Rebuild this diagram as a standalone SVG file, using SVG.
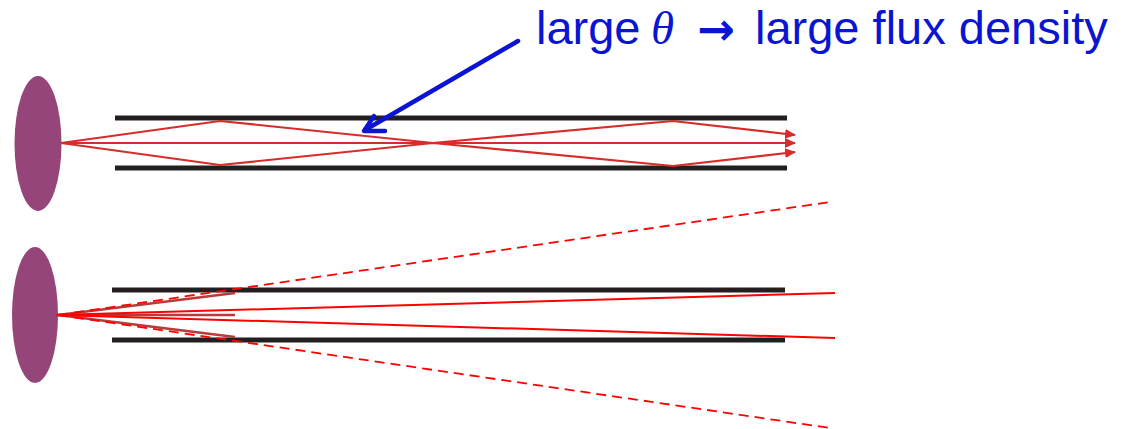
<svg xmlns="http://www.w3.org/2000/svg" width="1125" height="429" viewBox="0 0 1125 429">
  <style>
    .lens { fill: #95457a; }
    .wall { stroke: #231f20; stroke-width: 5; fill: none; }
    .ray { stroke: #d62d2a; stroke-width: 2.2; fill: none; }
    .stub { stroke: #b83a3a; stroke-width: 2.5; fill: none; }
    .red { stroke: #ff0000; stroke-width: 2; fill: none; }
    .dash { stroke: #ff0000; stroke-width: 1.8; fill: none; stroke-dasharray: 10 6; }
    .lbl { font-family: "Liberation Sans", Arial, sans-serif; font-size: 47px; fill: #0a14d2; }
    .sym { font-family: "DejaVu Sans", sans-serif; font-weight: bold; font-size: 45px; fill: #0a14d2; }
    .theta { font-family: "Liberation Serif", "Times New Roman", serif; font-style: italic; font-size: 47px; fill: #0a14d2; }
  </style>
  <defs>
    <marker id="ah" markerWidth="12" markerHeight="12" refX="10" refY="6" orient="auto" markerUnits="userSpaceOnUse">
      <path d="M0,1 L11,6 L0,11 Z" fill="#d62d2a"/>
    </marker>
  </defs>
  <rect width="1125" height="429" fill="#ffffff"/>

  <g id="top-source"><ellipse class="lens" cx="38" cy="143.5" rx="23.5" ry="67.5"/></g>
  <g id="top-fiber">
    <line class="wall" x1="115" y1="118" x2="787" y2="118"/>
    <line class="wall" x1="115" y1="168" x2="787" y2="168"/>
  </g>
  <g id="bottom-source"><ellipse class="lens" cx="35" cy="315" rx="23" ry="68"/></g>
  <g id="bottom-fiber">
    <line class="wall" x1="112" y1="290" x2="785" y2="290"/>
    <line class="wall" x1="112" y1="340" x2="785" y2="340"/>
  </g>

  <g id="connectors">
    <polyline class="ray" points="61,143 220,121 433,143 673,121 795,135" marker-end="url(#ah)"/>
    <polyline class="ray" points="61,143 220,165 433,143 673,166 795,152" marker-end="url(#ah)"/>
    <line class="ray" x1="61" y1="143" x2="795" y2="143" marker-end="url(#ah)"/>

    <line class="stub" x1="58" y1="315" x2="235" y2="293"/>
    <line class="stub" x1="58" y1="315" x2="235" y2="315"/>
    <line class="stub" x1="58" y1="315" x2="235" y2="337"/>
    <line class="red" x1="56" y1="315" x2="835" y2="293"/>
    <line class="red" x1="56" y1="315" x2="835" y2="338"/>
    <line class="dash" x1="58" y1="315" x2="830" y2="202"/>
    <line class="dash" x1="58" y1="315" x2="830" y2="428"/>

    <g stroke="#0a14d2" stroke-width="4.5" fill="none" stroke-linecap="round" stroke-linejoin="round">
      <line x1="518" y1="41" x2="365" y2="130"/>
      <polyline points="374,116 364,131 385,131"/>
    </g>
  </g>

  <g id="label">
    <text class="lbl" x="536" y="44">large</text>
    <text class="theta" x="651" y="44">θ</text>
    <text class="sym" x="697" y="45">→</text>
    <text class="lbl" x="755" y="44">large flux density</text>
  </g>
</svg>
